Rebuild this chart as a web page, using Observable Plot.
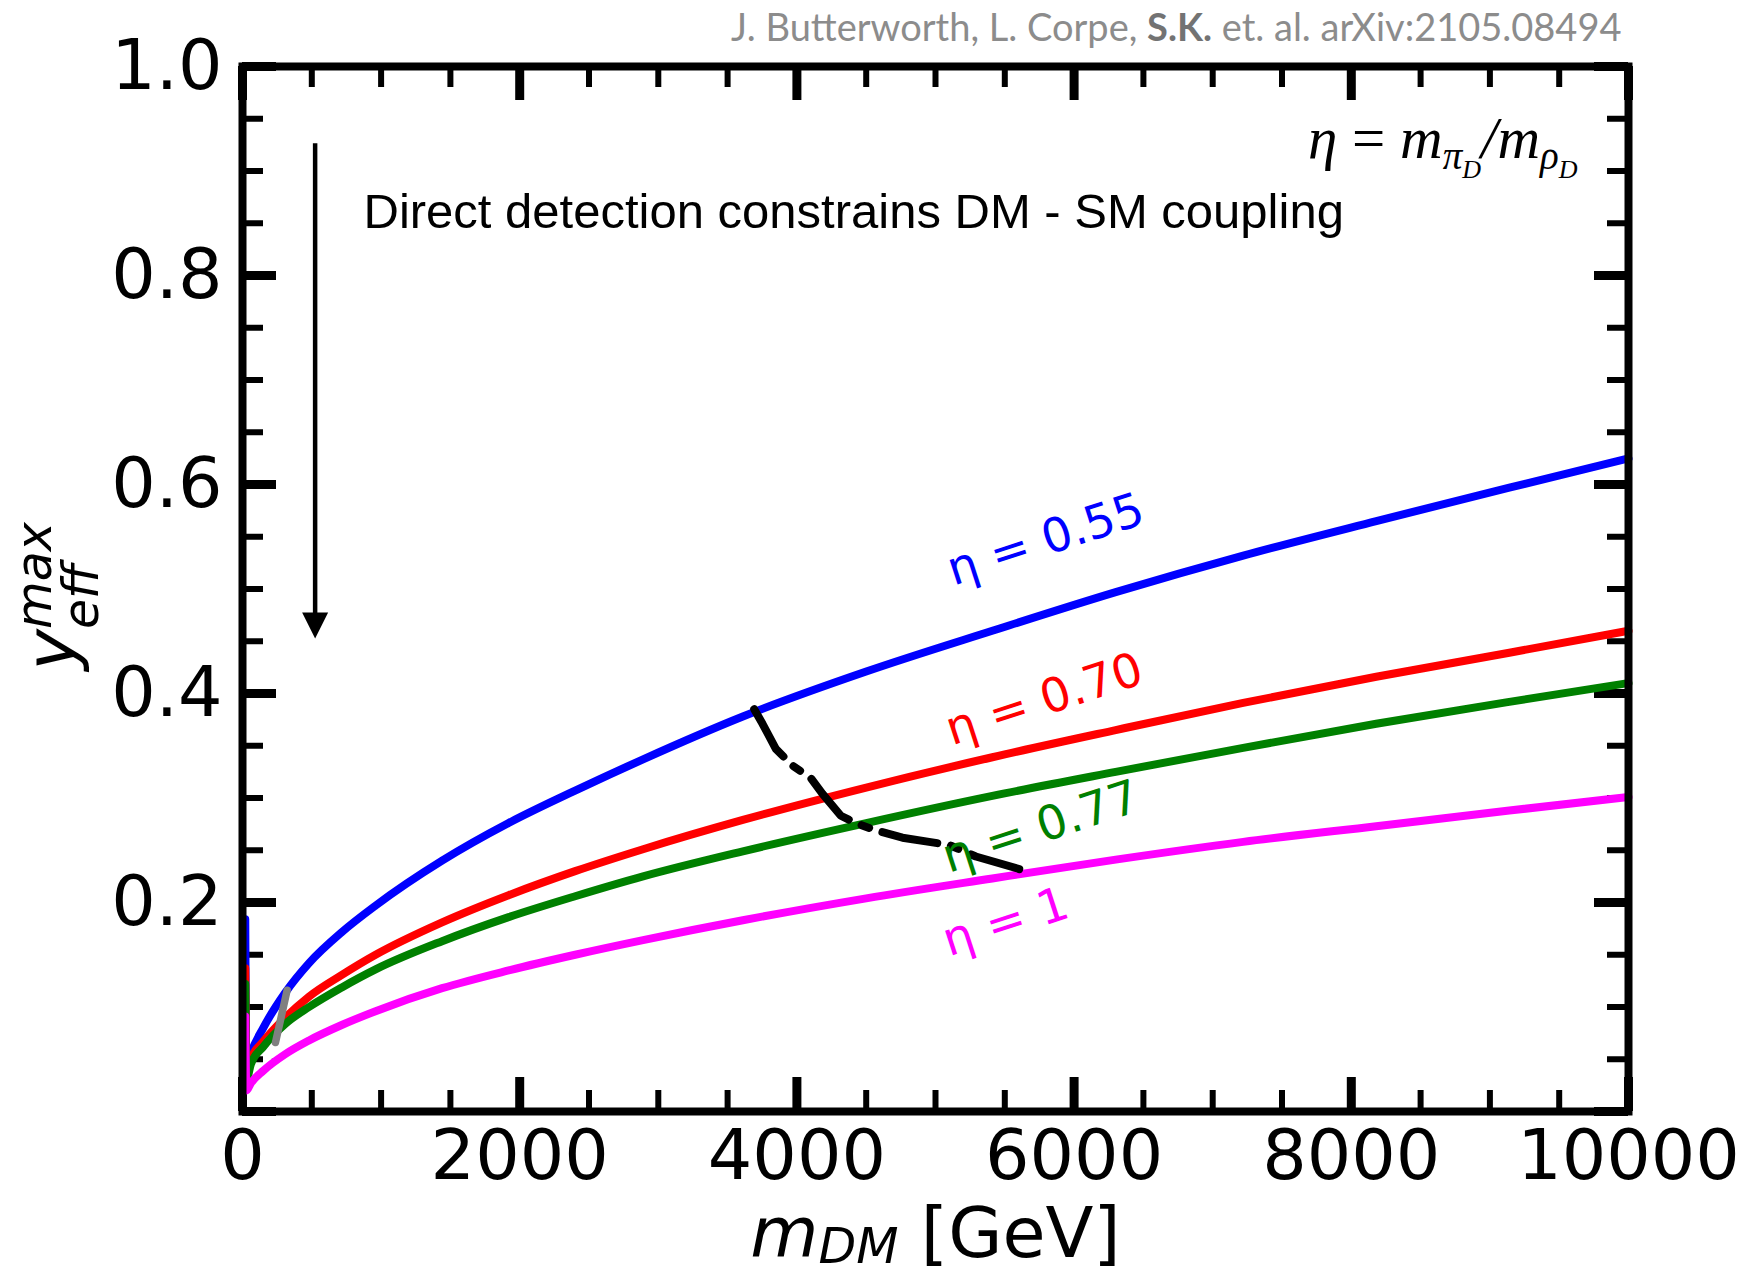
<!DOCTYPE html>
<html>
<head>
<meta charset="utf-8">
<script src="https://cdn.jsdelivr.net/npm/d3@7"></script>
<script src="https://cdn.jsdelivr.net/npm/@observablehq/plot@0.6"></script>
<style>
  html, body { margin: 0; padding: 0; background: #ffffff; }
  #chart svg { display: block; overflow: visible; }
</style>
</head>
<body>
<div id="chart"></div>
<script>
// ---------------- data ----------------
const massGeV = [20, 28, 60, 150, 310, 480, 720, 960, 1440, 1920, 2400, 2890, 3610, 4500, 5410, 6300, 7220, 8180, 9140, 10000];
const etaNames = ["0.55", "0.70", "0.77", "1"];
const yEta055 = [0.184, 0.040, 0.055, 0.080, 0.114, 0.142, 0.172, 0.197, 0.240, 0.276, 0.307, 0.337, 0.378, 0.421, 0.460, 0.497, 0.532, 0.565, 0.597, 0.625];
const yEta070 = [0.137, 0.036, 0.050, 0.067, 0.090, 0.110, 0.131, 0.150, 0.181, 0.207, 0.230, 0.251, 0.279, 0.310, 0.339, 0.365, 0.391, 0.416, 0.439, 0.460];
const yEta077 = [0.122, 0.030, 0.045, 0.062, 0.084, 0.100, 0.119, 0.136, 0.163, 0.186, 0.206, 0.225, 0.249, 0.276, 0.302, 0.325, 0.348, 0.371, 0.392, 0.410];
const yEta100 = [0.091, 0.020, 0.027, 0.039, 0.055, 0.068, 0.083, 0.096, 0.118, 0.135, 0.150, 0.164, 0.183, 0.204, 0.223, 0.241, 0.258, 0.273, 0.288, 0.301];

// black dash-dot boundary
const boundaryMass = [3692, 3752, 3848, 3968, 4101, 4185, 4317, 4426, 4570, 4762, 4954, 5099, 5291, 5604];
const boundaryY    = [0.385, 0.371, 0.347, 0.331, 0.319, 0.304, 0.283, 0.276, 0.269, 0.262, 0.258, 0.255, 0.244, 0.232];

// grey constraint pieces
const grayMass = [322, 238];
const grayY = [0.116, 0.066];
const grayTickMass = [216, 277];
const grayTickY = [0.050, 0.050];

// arrow (mass, top of shaft, base of head, tip)
const arrowMass = [524];
const arrowTop = [0.926];
const arrowHeadBase = [0.477];
const arrowTip = [0.453];

// curve labels
const labelText = ["η = 0.55", "η = 0.70", "η = 0.77", "η = 1"];
const labelMass = [5795, 5785, 5760, 5507];
const labelY = [0.547, 0.394, 0.272, 0.181];

// ticks
const xTickLabels = [0, 2000, 4000, 6000, 8000, 10000];
const xMinorTicks = [500, 1000, 1500, 2500, 3000, 3500, 4500, 5000, 5500, 6500, 7000, 7500, 8500, 9000, 9500];
const yMajorTicks = [0, 0.2, 0.4, 0.6, 0.8, 1.0];
const yTickLabels = [0.2, 0.4, 0.6, 0.8, 1.0];
const yMinorTicks = [0.05, 0.1, 0.15, 0.25, 0.3, 0.35, 0.45, 0.5, 0.55, 0.65, 0.7, 0.75, 0.85, 0.9, 0.95];

// texts
const annotationText = "Direct detection constrains DM - SM coupling";
const etaDefText = "η = mπD/mρD";
const xLabelText = "mDM [GeV]";
const yLabelText = "yeffmax";
const citationText = "J. Butterworth, L. Corpe, S.K. et. al. arXiv:2105.08494";

// ---------------- tables ----------------
const series = [yEta055, yEta070, yEta077, yEta100];
const curves = etaNames.flatMap((eta, i) => massGeV.map((m, j) => ({eta, m, y: series[i][j]})));
const boundary = boundaryMass.map((m, i) => ({m, y: boundaryY[i]}));
const grayRows = grayMass.map((m, i) => ({m, y: grayY[i]}));
const grayTickRows = grayTickMass.map((m, i) => ({m, y: grayTickY[i]}));
const arrowRows = arrowMass.map((m, i) => ({m, top: arrowTop[i], base: arrowHeadBase[i], mid: (arrowHeadBase[i] + arrowTip[i]) / 2}));
const labels = labelText.map((text, i) => ({text, eta: etaNames[i], m: labelMass[i], y: labelY[i]}));

// ---------------- layout / style ----------------
const W = 1741, H = 1274;
const M = {top: 66, right: 113, bottom: 163, left: 242};
const innerW = W - M.left - M.right;
const innerH = H - M.top - M.bottom;
const majorLen = 34, minorLen = 21, majorW = 9, minorW = 6;
const etaColors = ["#0000ff", "#ff0000", "#008000", "#ff00ff"];

const downTriangle = {
  draw(ctx, size) {
    const r = Math.sqrt(size / Math.PI);
    ctx.moveTo(-r, -r);
    ctx.lineTo(r, -r);
    ctx.lineTo(0, r);
    ctx.closePath();
  }
};

const plot = Plot.plot({
  width: W,
  height: H,
  marginTop: M.top,
  marginRight: M.right,
  marginBottom: M.bottom,
  marginLeft: M.left,
  style: {fontFamily: "DejaVu Sans", background: "#ffffff", color: "#000000"},
  x: {domain: [0, 10000]},
  y: {domain: [0, 1]},
  color: {domain: etaNames, range: etaColors},
  marks: [
    // inward ticks on all four sides
    Plot.ruleX(xMinorTicks, {insetTop: innerH - minorLen, strokeWidth: minorW, stroke: "black"}),
    Plot.ruleX(xMinorTicks, {insetBottom: innerH - minorLen, strokeWidth: minorW, stroke: "black"}),
    Plot.ruleX(xTickLabels, {insetTop: innerH - majorLen, strokeWidth: majorW, stroke: "black"}),
    Plot.ruleX(xTickLabels, {insetBottom: innerH - majorLen, strokeWidth: majorW, stroke: "black"}),
    Plot.ruleY(yMinorTicks, {insetRight: innerW - minorLen, strokeWidth: minorW, stroke: "black"}),
    Plot.ruleY(yMinorTicks, {insetLeft: innerW - minorLen, strokeWidth: minorW, stroke: "black"}),
    Plot.ruleY(yMajorTicks, {insetRight: innerW - majorLen, strokeWidth: majorW, stroke: "black"}),
    Plot.ruleY(yMajorTicks, {insetLeft: innerW - majorLen, strokeWidth: majorW, stroke: "black"}),
    Plot.axisX({ticks: xTickLabels, tickSize: 0, tickPadding: 18, tickFormat: d => String(d), fontSize: 70, fontFamily: "DejaVu Sans", label: null, fill: "black"}),
    Plot.axisY({ticks: yTickLabels, tickSize: 0, tickPadding: 20, tickFormat: d => d.toFixed(1), fontSize: 70, fontFamily: "DejaVu Sans", label: null, fill: "black"}),

    // curves
    Plot.line(grayTickRows, {x: "m", y: "y", stroke: "#808080", strokeWidth: 2}),
    Plot.line(curves, {x: "m", y: "y", z: "eta", stroke: "eta", strokeWidth: 8, curve: "monotone-x", strokeLinejoin: "round"}),
    Plot.line(grayRows, {x: "m", y: "y", stroke: "#808080", strokeWidth: 7.5}),
    Plot.line(boundary, {x: "m", y: "y", stroke: "black", strokeWidth: 8, strokeDasharray: "56,14,8,14"}),

    // arrow
    Plot.ruleX(arrowRows, {x: "m", y1: "top", y2: "mid", stroke: "black", strokeWidth: 4.5}),
    Plot.dot(arrowRows, {x: "m", y: "mid", symbol: downTriangle, r: 13, fill: "black", stroke: null}),

    // curve labels
    Plot.text(labels, {x: "m", y: "y", text: "text", fill: "eta", rotate: -18, fontSize: 47, fontFamily: "DejaVu Sans", textAnchor: "middle", lineAnchor: "middle"}),

    // annotations
    Plot.text([annotationText], {text: d => d, frameAnchor: "top-left", dx: 121, dy: 161, textAnchor: "start", lineAnchor: "bottom", fontSize: 49, fontFamily: "Liberation Sans", fill: "black"}),
    Plot.text([etaDefText], {text: d => d, frameAnchor: "top-right", dx: -51, dy: 91, textAnchor: "end", lineAnchor: "bottom", fontSize: 59, fontFamily: "Liberation Serif", fill: "black"}),

    Plot.frame({stroke: "black", strokeWidth: 8}),

    // axis titles and citation
    Plot.text([xLabelText], {text: d => d, frameAnchor: "bottom", dy: 145, textAnchor: "middle", lineAnchor: "bottom", fontSize: 70, fontFamily: "DejaVu Sans", fill: "black"}),
    Plot.text([yLabelText], {text: d => d, frameAnchor: "left", dx: -168, dy: 81.5, rotate: -90, textAnchor: "start", lineAnchor: "bottom", fontSize: 70, fontFamily: "DejaVu Sans", fill: "black"}),
    Plot.text([citationText], {text: d => d, frameAnchor: "top-right", dx: -7, dy: -26, textAnchor: "end", lineAnchor: "bottom", fontSize: 38, fontFamily: "Lato", fill: "#8c8c8c"})
  ]
});

document.getElementById("chart").appendChild(plot);

// ---------------- rich text (sub/superscripts) ----------------
const SVGNS = "http://www.w3.org/2000/svg";
function findText(str) {
  return [...plot.querySelectorAll("text")].find(t => t.textContent === str);
}
function rich(el, parts) {
  if (!el) return [];
  el.textContent = "";
  return parts.map(p => {
    const t = document.createElementNS(SVGNS, "tspan");
    t.textContent = p.text;
    if (p.size) t.setAttribute("font-size", p.size);
    if (p.style) t.setAttribute("font-style", p.style);
    if (p.weight) t.setAttribute("font-weight", p.weight);
    if (p.fill) t.setAttribute("fill", p.fill);
    if (p.dy) t.setAttribute("dy", p.dy);
    if (p.dx) t.setAttribute("dx", p.dx);
    el.appendChild(t);
    return t;
  });
}

rich(findText(etaDefText), [
  {text: "η", style: "italic"},
  {text: " = ", style: "normal"},
  {text: "m", style: "italic"},
  {text: "π", style: "italic", size: 39, dy: 11},
  {text: "D", style: "italic", size: 26, dy: 9},
  {text: "/", style: "italic", size: 59, dy: -20},
  {text: "m", style: "italic"},
  {text: "ρ", style: "italic", size: 39, dy: 11},
  {text: "D", style: "italic", size: 26, dy: 9}
]);

rich(findText(xLabelText), [
  {text: "m", style: "italic"},
  {text: "DM", style: "italic", size: 49, dy: 6},
  {text: " [GeV]", style: "normal", size: 70, dy: -6}
]);

const yParts = rich(findText(yLabelText), [
  {text: "y", style: "italic"},
  {text: "eff", style: "italic", size: 49, dy: 23},
  {text: "max", style: "italic", size: 49, dy: -47}
]);
if (yParts.length) {
  const w = yParts[1].getComputedTextLength();
  yParts[2].setAttribute("dx", -w);
}

rich(findText(citationText), [
  {text: "J. Butterworth, L. Corpe, "},
  {text: "S.K.", weight: "bold", fill: "#737373"},
  {text: " et. al. arXiv:2105.08494"}
]);
</script>
</body>
</html>
